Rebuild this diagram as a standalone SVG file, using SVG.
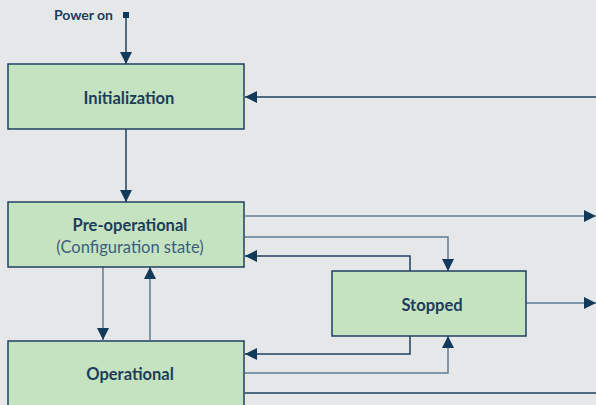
<svg xmlns="http://www.w3.org/2000/svg" width="596" height="405" viewBox="0 0 596 405">
  <style>
    .box { fill: #c5e2c1; stroke: #1f4160; stroke-width: 1.5; }
    .lbl { font-family: Lato, "Noto Sans", sans-serif; font-weight: bold; font-size: 16.5px; fill: #1c3d5a; text-anchor: middle; }
    .sub { font-family: Lato, "Noto Sans", sans-serif; font-size: 16.5px; fill: #3b5f7e; text-anchor: middle; }
    .dk { fill: none; stroke: #1f4160; stroke-width: 1.5; }
    .lt { fill: none; stroke: #5d7c96; stroke-width: 1.5; }
  </style>
  <defs>
    <marker id="arr" viewBox="0 0 12 12" refX="12" refY="6" markerWidth="12" markerHeight="12" markerUnits="userSpaceOnUse" orient="auto">
      <path d="M0,0 L12,6 L0,12 Z" fill="#123a5a"/>
    </marker>
  </defs>
  <rect width="596" height="405" fill="#e6e7e9"/>

  <g id="connectors">
    <!-- power on -->
    <path class="dk" d="M126,15 V64" marker-end="url(#arr)"/>
    <!-- return into Initialization -->
    <path class="dk" d="M596,97 H245" marker-end="url(#arr)"/>
    <!-- Initialization to Pre-operational -->
    <path class="dk" d="M126,129 V202" marker-end="url(#arr)"/>
    <!-- Pre-operational outgoing -->
    <path class="lt" d="M245,216 H596" marker-end="url(#arr)"/>
    <path class="lt" d="M245,237 H448 V271" marker-end="url(#arr)"/>
    <path class="dk" d="M410,271 V256 H245" marker-end="url(#arr)"/>
    <!-- Pre-operational / Operational -->
    <path class="lt" d="M103,267 V340" marker-end="url(#arr)"/>
    <path class="lt" d="M150,340 V267" marker-end="url(#arr)"/>
    <!-- Stopped outgoing -->
    <path class="lt" d="M526,303 H596" marker-end="url(#arr)"/>
    <path class="dk" d="M410,336 V354 H245" marker-end="url(#arr)"/>
    <!-- Operational outgoing -->
    <path class="lt" d="M245,373 H448 V336" marker-end="url(#arr)"/>
    <path class="dk" d="M245,393 H596"/>
  </g>

  <g id="power-on">
    <rect x="123" y="12" width="6" height="6" fill="#123a5a"/>
    <text x="113" y="20" font-family="Lato, 'Noto Sans', sans-serif" font-weight="bold" font-size="14" fill="#1c3d5a" text-anchor="end">Power on</text>
  </g>

  <g id="initialization">
    <rect class="box" x="8" y="64" width="236" height="65"/>
    <text class="lbl" x="129" y="104">Initialization</text>
  </g>

  <g id="pre-operational">
    <rect class="box" x="8" y="202" width="236" height="65"/>
    <text class="lbl" x="130" y="231">Pre-operational</text>
    <text class="sub" x="130" y="253">(Configuration state)</text>
  </g>

  <g id="stopped">
    <rect class="box" x="332" y="271" width="194" height="65"/>
    <text class="lbl" x="432" y="311">Stopped</text>
  </g>

  <g id="operational">
    <rect class="box" x="8" y="341" width="236" height="70"/>
    <text class="lbl" x="130" y="380">Operational</text>
  </g>
</svg>
